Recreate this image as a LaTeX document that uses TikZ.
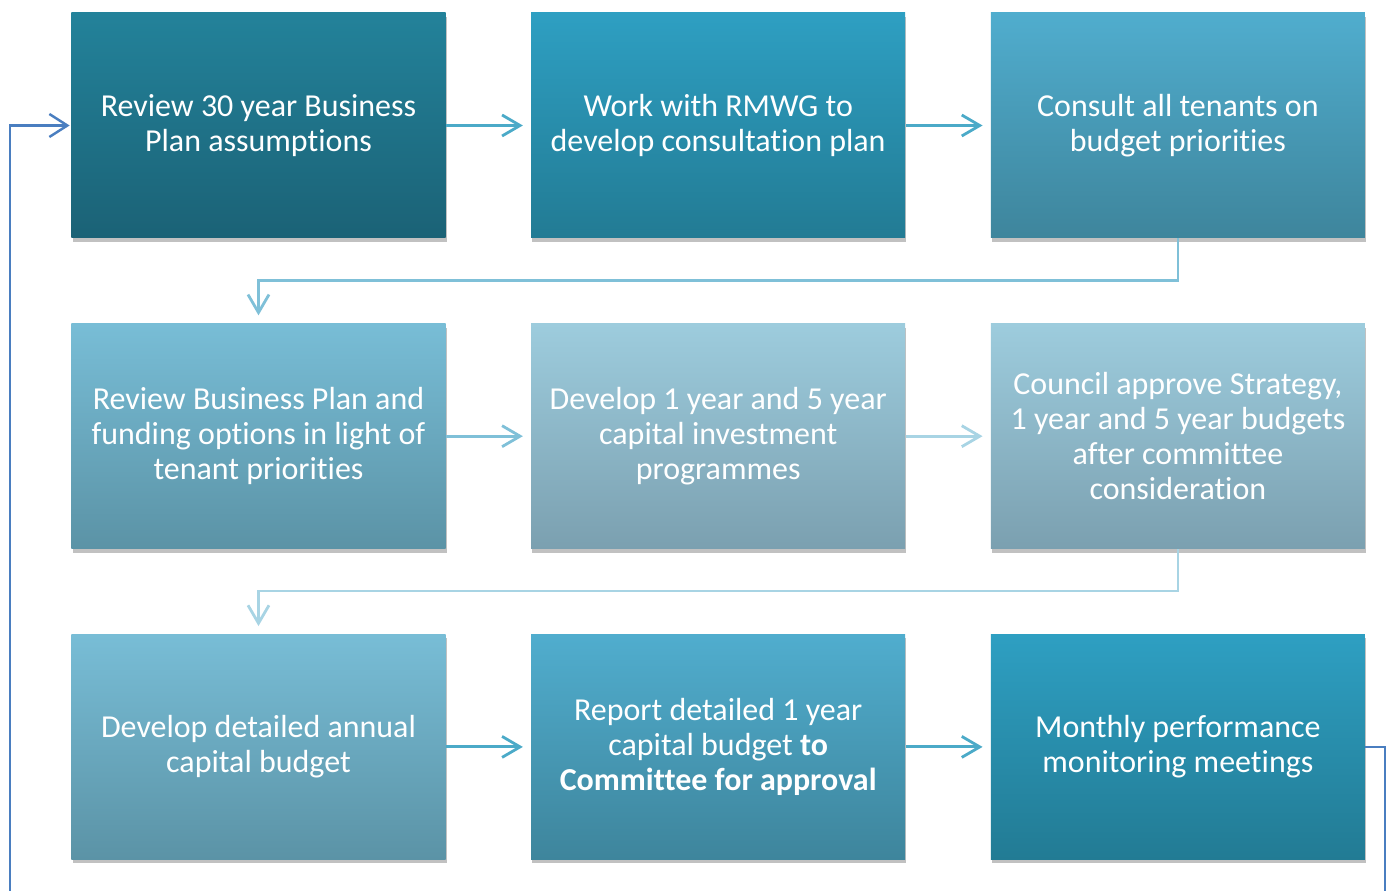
\documentclass[tikz,border=0pt]{standalone}
\usepackage{fontspec}
\setmainfont{Carlito}[Ligatures=NoCommon]
\usetikzlibrary{positioning,shadows,arrows.meta}

\definecolor{tealA}{HTML}{23829A}
\definecolor{tealAd}{HTML}{1B6276}
\definecolor{tealB}{HTML}{2E9FC2}
\definecolor{tealBd}{HTML}{227B94}
\definecolor{tealC}{HTML}{50ADCE}
\definecolor{tealCd}{HTML}{3E859C}
\definecolor{tealD}{HTML}{78BDD6}
\definecolor{tealDd}{HTML}{5B93A6}
\definecolor{tealE}{HTML}{9DCCDD}
\definecolor{tealEd}{HTML}{7BA0B0}
\definecolor{arrowdark}{HTML}{4BAAC8}
\definecolor{arrowmid}{HTML}{7FC0D8}
\definecolor{arrowpale}{HTML}{A8D4E4}
\definecolor{loopblue}{HTML}{4A7EC0}

\tikzset{
  stepbox/.style 2 args={minimum width=7.48cm, minimum height=4.5cm, inner sep=0pt,
    align=center, text=white, font=\fontsize{18.2}{19.9}\selectfont,
    top color=#1, bottom color=#2,
    drop shadow={shadow xshift=0.6pt, shadow yshift=-2.2pt, opacity=0.35, fill=black!70}},
  flow/.style={draw=#1, line width=1.6pt, shorten >=0.16cm,
    -{Straight Barb[length=0.36cm, width=0.42cm, line width=1.6pt]}},
  loopback/.style={draw=loopblue, line width=1.4pt, shorten >=0.03cm,
    -{Straight Barb[length=0.36cm, width=0.46cm, line width=1.4pt]}}
}

\begin{document}
\begin{tikzpicture}
\useasboundingbox (-5.17,2.51) rectangle (22.59,-15.31);

\node (r1) [stepbox={tealA}{tealAd}] at (0,0) {Review 30 year Business\\Plan assumptions};
\node (r2) [stepbox={tealB}{tealBd}, right=1.7cm of r1] {Work with RMWG to\\develop consultation plan};
\node (r3) [stepbox={tealC}{tealCd}, right=1.7cm of r2] {Consult all tenants on\\budget priorities};

\node (r4) [stepbox={tealD}{tealDd}, below=1.7cm of r1] {Review Business Plan and\\funding options in light of\\tenant priorities};
\node (r5) [stepbox={tealE}{tealEd}, right=1.7cm of r4] {Develop 1 year and 5 year\\capital investment\\programmes};
\node (r6) [stepbox={tealE}{tealEd}, right=1.7cm of r5] {Council approve Strategy,\\1 year and 5 year budgets\\after committee\\consideration};

\node (r7) [stepbox={tealD}{tealDd}, below=1.7cm of r4] {Develop detailed annual\\capital budget};
\node (r8) [stepbox={tealC}{tealCd}, right=1.7cm of r7] {Report detailed 1 year\\capital budget \textbf{to}\\\textbf{Committee for approval}};
\node (r9) [stepbox={tealB}{tealBd}, right=1.7cm of r8] {Monthly performance\\monitoring meetings};

\draw [flow=arrowdark] (r1) -- (r2);
\draw [flow=arrowdark] (r2) -- (r3);
\draw [flow=arrowmid] (r3.south) -- ++(0,-0.84) -| (r4.north);
\draw [flow=arrowmid] (r4) -- (r5);
\draw [flow=arrowpale] (r5) -- (r6);
\draw [flow=arrowpale] (r6.south) -- ++(0,-0.84) -| (r7.north);
\draw [flow=arrowdark] (r7) -- (r8);
\draw [flow=arrowdark] (r8) -- (r9);

\draw [loopback] (r9.east) -- ++(0.4,0) |- ([xshift=-1.22cm, yshift=-1.5cm]r7.south west) |- (r1.west);
\end{tikzpicture}
\end{document}
